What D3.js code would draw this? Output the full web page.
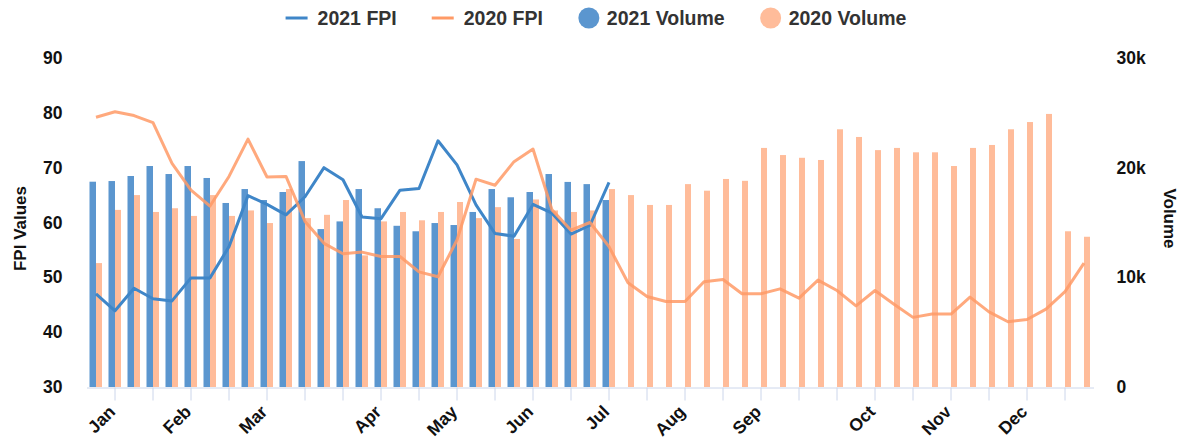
<!DOCTYPE html>
<html>
<head>
<meta charset="utf-8">
<script src="https://cdn.jsdelivr.net/npm/d3@7"></script>
<style>
  body { margin: 0; background: #fff; }
  svg { font-family: "Liberation Sans", Arial, sans-serif; }
</style>
</head>
<body>
<svg id="chart" width="1191" height="440"></svg>
<script>
// weekly categories, month name on the first shown week of each month
const monthAt = {1: "Jan", 5: "Feb", 9: "Mar", 15: "Apr", 19: "May", 23: "Jun",
                 27: "Jul", 31: "Aug", 35: "Sep", 41: "Oct", 45: "Nov", 49: "Dec"};
const weeks = d3.range(53);
const weekLabels = weeks.map(i => monthAt[i] || "");

const fpi2021 = [47.0, 43.9, 48.0, 46.1, 45.7, 49.9, 49.9, 55.6, 64.9, 63.3, 61.4, 64.7, 70.0, 67.8,
                 61.0, 60.7, 65.9, 66.2, 74.9, 70.5, 63.2, 58.0, 57.5, 63.3, 61.7, 57.9, 59.5, 67.3];
const fpi2020 = [79.2, 80.2, 79.5, 78.2, 70.8, 65.9, 63.0, 68.4, 75.2, 68.3, 68.4, 60.2, 56.2, 54.3,
                 54.6, 53.8, 53.8, 51.0, 50.1, 56.8, 67.9, 66.8, 71.1, 73.4, 62.3, 58.6, 60.0, 55.6,
                 49.0, 46.5, 45.6, 45.6, 49.2, 49.6, 47.0, 47.0, 47.9, 46.2, 49.5, 47.6, 44.8, 47.6,
                 45.1, 42.7, 43.3, 43.3, 46.4, 43.7, 41.9, 42.3, 44.2, 47.4, 52.6];
const vol2021 = [18720, 18780, 19240, 20150, 19420, 20150, 19060, 16780, 18050, 17050, 17780, 20600,
                 14400, 15100, 18050, 16300, 14700, 14200, 14950, 14770, 15960, 18050, 17300, 17780,
                 19420, 18700, 18500, 17050];
const vol2020 = [11300, 16150, 17500, 15960, 16300, 15600, 17500, 15600, 16100, 14950, 18050, 15400,
                 15700, 17050, 12000, 15100, 15960, 15200, 15960, 16870, 15400, 16400, 13500, 17100,
                 16100, 15960, 16100, 18050, 17500, 16600, 16600, 18500, 17900, 18970, 18800, 21800,
                 21150, 20900, 20700, 23500, 22800, 21600, 21800, 21400, 21400, 20150, 21800, 22070,
                 23500, 24160, 24900, 14200, 13700];
const fpiTicks = [30, 40, 50, 60, 70, 80, 90];
const volTicks = [0, 10000, 20000, 30000];

const blue = "#5b96cf", orange = "#ffbc9a";
const blueLine = "#3f86c8", orangeLine = "#ff9a66";

const svg = d3.select("#chart");
const plotL = 86.5, plotR = 1093.5, plotT = 58, plotB = 387;

const x = d3.scaleBand().domain(weeks).range([plotL, plotR]).padding(0);
const yL = d3.scaleLinear().domain([30, 90]).range([plotB, plotT]);
const yR = d3.scaleLinear().domain([0, 30000]).range([plotB, plotT]);
const cx = i => x(i) + x.bandwidth() / 2;

// bars
svg.append("g").selectAll("rect").data(vol2021).join("rect")
  .attr("x", (d, i) => cx(i) - 6.5).attr("width", 6.5)
  .attr("y", d => yR(d)).attr("height", d => plotB - yR(d))
  .attr("fill", blue);
svg.append("g").selectAll("rect").data(vol2020).join("rect")
  .attr("x", (d, i) => cx(i)).attr("width", 6)
  .attr("y", d => yR(d)).attr("height", d => plotB - yR(d))
  .attr("fill", orange);

// x axis
const xAxis = svg.append("g")
  .attr("transform", `translate(0,${plotB + 0.5})`)
  .call(d3.axisBottom(x).tickValues(weeks.filter(i => i % 2 == 1))
    .tickFormat(i => weekLabels[i]).tickSize(13).tickSizeOuter(0));
xAxis.select(".domain").attr("stroke", "#ccd6eb");
xAxis.selectAll(".tick line").attr("stroke", "#ccd6eb");
xAxis.selectAll("text")
  .attr("x", 0).attr("y", 0).attr("dy", "0.35em")
  .attr("text-anchor", "end")
  .attr("transform", "translate(-3,21) rotate(-45)")
  .attr("font-size", 17.5).attr("font-weight", "bold").attr("fill", "#111")
  .attr("font-family", "Liberation Sans, Arial, sans-serif");

// lines
const line = d3.line().x((d, i) => cx(i));
svg.append("path").datum(fpi2021)
  .attr("d", line.y(d => yL(d)))
  .attr("fill", "none").attr("stroke", blueLine).attr("stroke-width", 3)
  .attr("stroke-linejoin", "round");
svg.append("path").datum(fpi2020)
  .attr("d", line.y(d => yL(d)))
  .attr("fill", "none").attr("stroke", orangeLine).attr("stroke-width", 3)
  .attr("stroke-opacity", 0.85).attr("stroke-linejoin", "round");

// y axes
const axL = svg.append("g").attr("transform", `translate(${plotL},0)`)
  .call(d3.axisLeft(yL).tickValues(fpiTicks).tickSize(0).tickPadding(24));
const axR = svg.append("g").attr("transform", `translate(${plotR},0)`)
  .call(d3.axisRight(yR).tickValues(volTicks).tickSize(0).tickPadding(23)
    .tickFormat(d => d == 0 ? "0" : d / 1000 + "k"));
[axL, axR].forEach(a => {
  a.select(".domain").remove();
  a.selectAll("text").attr("font-size", 17.5).attr("font-weight", "bold").attr("fill", "#111")
    .attr("font-family", "Liberation Sans, Arial, sans-serif");
});

svg.append("text").attr("transform", `translate(26,${(plotT + plotB) / 2 + 6}) rotate(-90)`)
  .attr("text-anchor", "middle").attr("font-size", 17).attr("font-weight", "bold")
  .attr("fill", "#111").text("FPI Values");
svg.append("text").attr("transform", `translate(1164,${(plotT + plotB) / 2 - 4}) rotate(90)`)
  .attr("text-anchor", "middle").attr("font-size", 17).attr("font-weight", "bold")
  .attr("fill", "#111").text("Volume");

// legend
const legendItems = [
  {name: "2021 FPI", type: "line", color: blueLine},
  {name: "2020 FPI", type: "line", color: orangeLine},
  {name: "2021 Volume", type: "dot", color: blue},
  {name: "2020 Volume", type: "dot", color: orange}
];
const legend = svg.append("g");
let lx = 0;
legendItems.forEach(it => {
  const g = legend.append("g").attr("transform", `translate(${lx},0)`);
  if (it.type == "line") {
    g.append("line").attr("x1", 0).attr("x2", 22).attr("y1", 18).attr("y2", 18)
      .attr("stroke", it.color).attr("stroke-width", 3);
  } else {
    g.append("circle").attr("cx", 11).attr("cy", 18).attr("r", 10.5).attr("fill", it.color);
  }
  const t = g.append("text").attr("x", it.type == "line" ? 32 : 29).attr("y", 25)
    .attr("font-size", 19.5).attr("font-weight", "bold").attr("fill", "#333").text(it.name);
  lx += (it.type == "line" ? 32 : 29) + t.node().getComputedTextLength() + 35;
});
const lw = lx - 35;
legend.attr("transform", `translate(${596 - lw / 2},0)`);
</script>
</body>
</html>
